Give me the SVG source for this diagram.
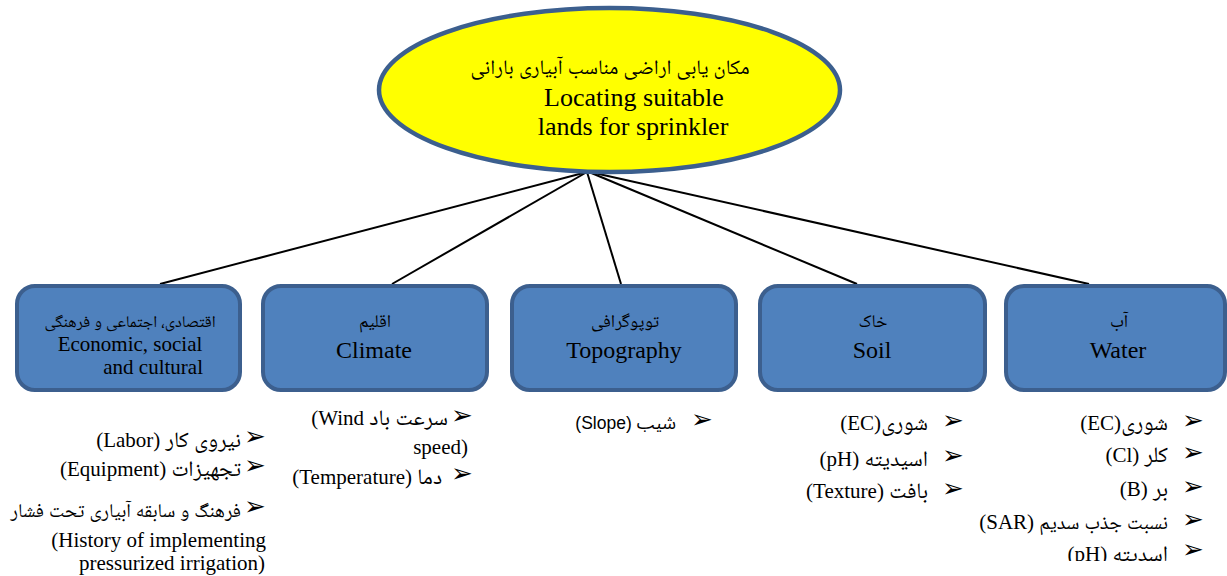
<svg xmlns="http://www.w3.org/2000/svg" width="1227" height="576" viewBox="0 0 1227 576">
<style>
.box{fill:#4f81bd;stroke:#3c5f8e;stroke-width:4}
.ell{fill:#ffff00;stroke:#3c5f8e;stroke-width:4.5}
.con{stroke:#000;stroke-width:2;fill:none}
.fa{font-family:"Liberation Serif","Noto Naskh Arabic","Noto Sans Arabic","DejaVu Sans",serif;fill:#000}
.en{font-family:"Liberation Serif","Noto Naskh Arabic","DejaVu Sans",serif;fill:#000}
.sa{font-family:"Liberation Sans","Noto Sans Arabic","DejaVu Sans",sans-serif;fill:#000}
.bul{font-family:"DejaVu Sans",sans-serif;font-size:26px;fill:#000;text-anchor:middle}
.it{font-family:"Liberation Serif","Noto Naskh Arabic","Noto Sans Arabic","DejaVu Sans",serif;font-size:21px;fill:#000;text-anchor:end}
.p{font-size:22px}
</style>
<defs>
<clipPath id="cut"><rect x="0" y="0" width="1227" height="561"/></clipPath>
</defs>
<g id="connectors">
<line class="con" x1="587" y1="172" x2="160" y2="284"/>
<line class="con" x1="587" y1="172" x2="392" y2="284"/>
<line class="con" x1="587" y1="172" x2="621" y2="284"/>
<line class="con" x1="589" y1="172" x2="857" y2="284"/>
<line class="con" x1="590" y1="172" x2="1089" y2="284"/>
</g>
<g id="root">
<ellipse class="ell" cx="609.5" cy="90" rx="230.5" ry="82"/>
<text class="fa" x="610" y="74" font-size="20.5" text-anchor="middle">مکان یابی اراضی مناسب آبیاری بارانی</text>
<text class="en" x="634" y="106" font-size="26" text-anchor="middle">Locating suitable</text>
<text class="en" x="633" y="135" font-size="26" text-anchor="middle">lands for sprinkler</text>
</g>
<g id="economic">
<rect class="box" x="17" y="286" width="223" height="104" rx="18"/>
<text class="fa" x="130" y="327" font-size="16.5" text-anchor="middle">اقتصادی، اجتماعی و فرهنگی</text>
<text class="en" x="130" y="351" font-size="21" text-anchor="middle">Economic, social</text>
<text class="en" x="203" y="374" font-size="21" text-anchor="end">and cultural</text>
</g>
<g id="climate">
<rect class="box" x="263" y="286" width="224" height="104" rx="18"/>
<text class="fa" x="375" y="327" font-size="18" text-anchor="middle">اقلیم</text>
<text class="en" x="374" y="358" font-size="24" text-anchor="middle">Climate</text>
</g>
<g id="topography">
<rect class="box" x="512" y="286" width="224" height="104" rx="18"/>
<text class="fa" x="625" y="327" font-size="18" text-anchor="middle">توپوگرافی</text>
<text class="en" x="624" y="358" font-size="24" text-anchor="middle">Topography</text>
</g>
<g id="soil">
<rect class="box" x="760" y="286" width="225" height="104" rx="18"/>
<text class="fa" x="873" y="327" font-size="18" text-anchor="middle">خاک</text>
<text class="en" x="872" y="358" font-size="24" text-anchor="middle">Soil</text>
</g>
<g id="water">
<rect class="box" x="1006" y="286" width="219" height="104" rx="18"/>
<text class="fa" x="1119" y="327" font-size="18" text-anchor="middle">آب</text>
<text class="en" x="1118" y="358" font-size="24" text-anchor="middle">Water</text>
</g>
<g id="economic-items">
<text class="bul" x="255" y="445">➢</text>
<text class="it" x="241" y="447">(Labor) <tspan class="p">نیروی کار</tspan></text>
<text class="bul" x="255" y="474">➢</text>
<text class="it" x="241" y="476">(Equipment) <tspan class="p">تجهیزات</tspan></text>
<text class="bul" x="255" y="515">➢</text>
<text class="it" x="241" y="517" style="font-size:19.5px">فرهنگ و سابقه آبیاری تحت فشار</text>
<text class="it" x="266" y="547">(History of implementing</text>
<text class="it" x="265" y="570">pressurized irrigation)</text>
</g>
<g id="climate-items">
<text class="bul" x="462" y="424">➢</text>
<text class="it" x="448" y="425">(Wind  <tspan class="p">سرعت باد</tspan></text>
<text class="it" x="468" y="454">speed)</text>
<text class="bul" x="462" y="482">➢</text>
<text class="it" x="442" y="484">(Temperature) <tspan class="p">دما</tspan></text>
</g>
<g id="topography-items">
<text class="bul" x="702" y="428">➢</text>
<text class="sa" x="676" y="429" font-size="17.5" text-anchor="end">(Slope) شیب</text>
</g>
<g id="soil-items">
<text class="bul" x="953" y="429">➢</text>
<text class="it" x="928" y="430">(EC)<tspan class="p">شوری</tspan></text>
<text class="bul" x="953" y="464">➢</text>
<text class="it" x="928" y="466">(pH) <tspan class="p">اسیدیته</tspan></text>
<text class="bul" x="953" y="497">➢</text>
<text class="it" x="928" y="498">(Texture) <tspan class="p">بافت</tspan></text>
</g>
<g id="water-items" clip-path="url(#cut)">
<text class="bul" x="1193" y="429">➢</text>
<text class="it" x="1168" y="430">(EC)<tspan class="p">شوری</tspan></text>
<text class="bul" x="1193" y="461">➢</text>
<text class="it" x="1168" y="462">(Cl) <tspan class="p">کلر</tspan></text>
<text class="bul" x="1193" y="495">➢</text>
<text class="it" x="1168" y="496">(B) <tspan class="p">بر</tspan></text>
<text class="bul" x="1193" y="528">➢</text>
<text class="it" x="1168" y="529">(SAR) <tspan style="font-size:20px">نسبت جذب سدیم</tspan></text>
<text class="bul" x="1193" y="558">➢</text>
<text class="it" x="1168" y="561">(pH) <tspan class="p">اسدیته</tspan></text>
</g>
</svg>
